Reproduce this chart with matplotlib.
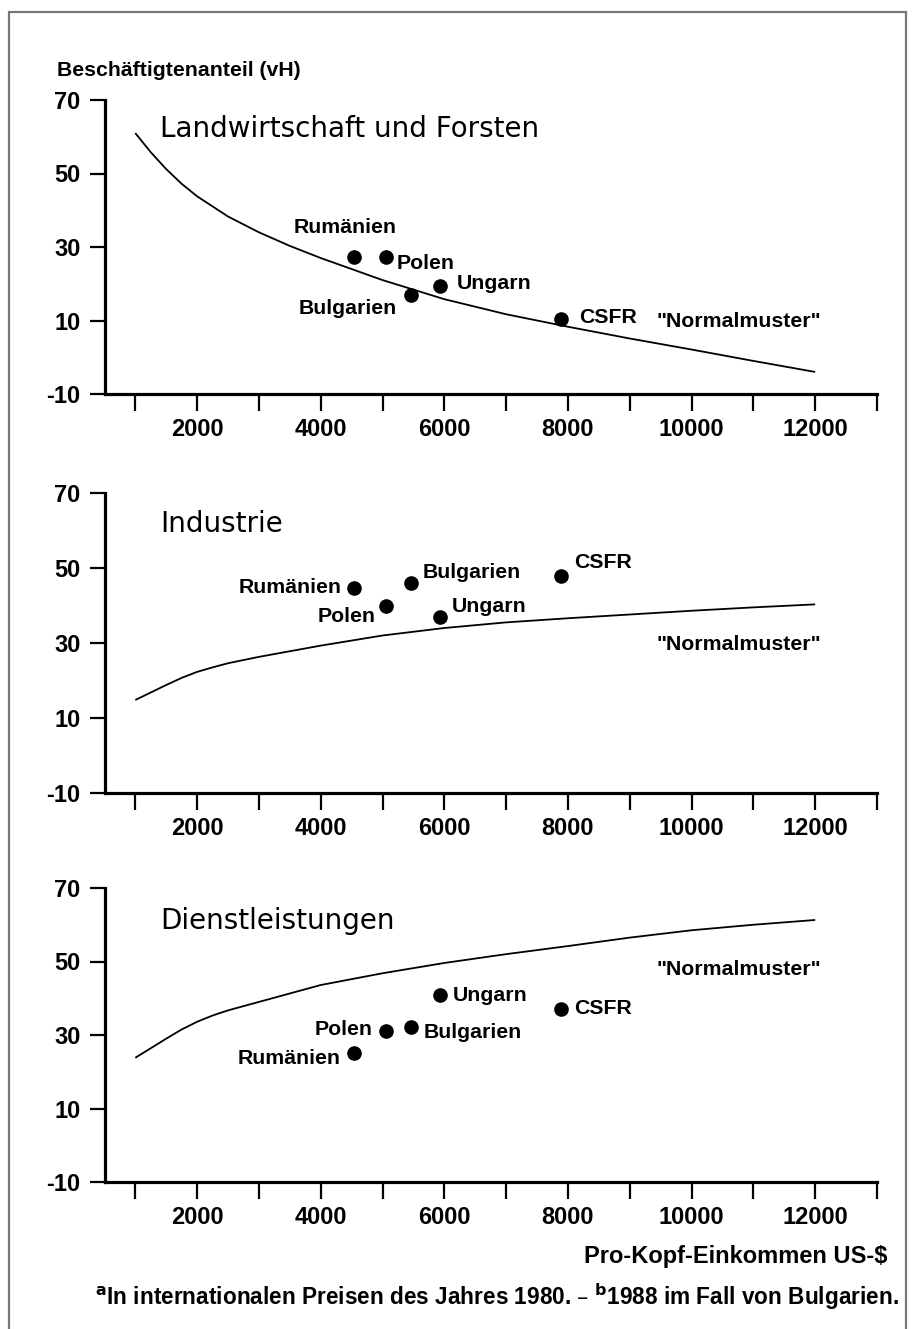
import matplotlib
matplotlib.use("Agg")
import matplotlib.pyplot as plt
from matplotlib.patches import Rectangle

# ---------------- data ----------------
countries = ["Rumänien", "Polen", "Bulgarien", "Ungarn", "CSFR"]
income = [4540, 5060, 5460, 5930, 7890]

agri_share = [27.2, 27.2, 16.9, 19.4, 10.4]
ind_share = [44.7, 39.9, 46.0, 37.0, 47.9]
serv_share = [25.2, 31.1, 32.2, 40.9, 37.1]

agri_x = [1000, 1250, 1500, 1750, 2000, 2500, 3000, 3500, 4000, 5000, 6000, 7000, 8000, 9000, 10000, 11000, 12000]
agri_curve = [61.0, 55.8, 51.2, 47.2, 43.8, 38.3, 34.0, 30.3, 27.0, 21.0, 15.8, 11.7, 8.3, 5.1, 2.1, -1.0, -4.0]
ind_x = [1000, 1500, 1750, 2000, 2250, 2500, 3000, 4000, 5000, 6000, 7000, 8000, 9000, 10000, 11000, 12000]
ind_curve = [14.8, 18.8, 20.7, 22.3, 23.5, 24.6, 26.3, 29.3, 32.0, 34.0, 35.5, 36.6, 37.6, 38.6, 39.5, 40.3]
serv_x = [1000, 1500, 1750, 2000, 2250, 2500, 3000, 4000, 5000, 6000, 7000, 8000, 9000, 10000, 11000, 12000]
serv_curve = [23.8, 29.0, 31.5, 33.6, 35.3, 36.7, 39.0, 43.6, 46.8, 49.6, 52.0, 54.2, 56.5, 58.5, 60.0, 61.3]

x_ticks = [1000, 2000, 3000, 4000, 5000, 6000, 7000, 8000, 9000, 10000, 11000, 12000, 13000]
x_ticklabels = ["", "2000", "", "4000", "", "6000", "", "8000", "", "10000", "", "12000", ""]
y_ticks = [-10, 10, 30, 50, 70]
y_ticklabels = ["-10", "10", "30", "50", "70"]

panel_titles = ["Landwirtschaft und Forsten", "Industrie", "Dienstleistungen"]
curve_label = '"Normalmuster"'
y_title = "Beschäftigtenanteil (vH)"
x_title = "Pro-Kopf-Einkommen US-$"
footnote = r"$^{\mathbf{a}}$In internationalen Preisen des Jahres 1980. – $^{\mathbf{b}}$1988 im Fall von Bulgarien."

# ---------------- layout / style ----------------
W, H = 915, 1329
fig = plt.figure(figsize=(W / 100, H / 100), dpi=100)
fig.patch.set_facecolor("white")

FAM = ["Liberation Sans", "DejaVu Sans"]
BOLD = dict(family=FAM, fontweight="bold", fontsize=15.3)
TICK = dict(family=FAM, fontweight="bold", fontsize=17)
TITLE = dict(family=["DejaVu Sans"], fontweight="normal", fontsize=20)

def px_rect(left, right, top, bottom):
    return [left / W, 1 - bottom / H, (right - left) / W, (bottom - top) / H]

axes_px = [
    (105, 877, 100, 394),
    (105, 877, 493, 793),
    (105, 877, 888, 1182),
]

# label offsets in pixels (dx, dy up positive), ha
offsets = [
    {"Rumänien": (-9, 30, "center"), "Polen": (10, -6, "left"), "Bulgarien": (-14, -13, "right"),
     "Ungarn": (17, 2, "left"), "CSFR": (18, 2, "left")},
    {"Rumänien": (-12, 0, "right"), "Polen": (-11, -11, "right"), "Bulgarien": (12, 10, "left"),
     "Ungarn": (12, 10, "left"), "CSFR": (13, 13, "left")},
    {"Rumänien": (-13, -6, "right"), "Polen": (-14, 1, "right"), "Bulgarien": (13, -6, "left"),
     "Ungarn": (13, -1, "left"), "CSFR": (13, 0, "left")},
]
title_y = [0.903, 0.895, 0.887]
normal_pos = [(9430, 9.7), (9430, 29.7), (9430, 47.7)]

xs = [agri_x, ind_x, serv_x]
shares = [agri_share, ind_share, serv_share]
curves = [agri_curve, ind_curve, serv_curve]

for i in range(3):
    ax = fig.add_axes(px_rect(*axes_px[i]))
    ax.set_xlim(510, 13000)
    ax.set_ylim(-10, 70)
    for s in ["top", "right"]:
        ax.spines[s].set_visible(False)
    for s in ["left", "bottom"]:
        ax.spines[s].set_linewidth(2.3)
    ax.plot(xs[i], curves[i], color="black", lw=1.3, solid_capstyle="butt")
    ax.plot(income, shares[i], "o", color="black", ms=9.5, zorder=3)
    ax.set_xticks(x_ticks)
    ax.set_xticklabels(x_ticklabels, **TICK)
    ax.set_yticks(y_ticks)
    ax.set_yticklabels(y_ticklabels, **TICK)
    ax.tick_params(axis="x", direction="out", length=12, width=1.6, pad=5)
    ax.tick_params(axis="y", direction="out", length=10.5, width=1.6, pad=7)
    ax.text(0.0712, title_y[i], panel_titles[i], transform=ax.transAxes,
            ha="left", va="center", **TITLE)
    ax.text(normal_pos[i][0], normal_pos[i][1], curve_label, ha="left", va="center", **BOLD)
    for c, xv, yv in zip(countries, income, shares[i]):
        dx, dy, ha = offsets[i][c]
        ax.annotate(c, (xv, yv), xytext=(dx, dy), textcoords="offset pixels",
                    ha=ha, va="center", **BOLD)

fig.text(57 / W, 1 - 71 / H, y_title, ha="left", va="center", **BOLD)
fig.text(888 / W, 1 - 1257 / H, x_title, ha="right", va="center",
         family=FAM, fontweight="bold", fontsize=17)
fig.text(95 / W, 1 - 1297 / H, footnote, ha="left", va="center",
         family=FAM, fontweight="bold", fontsize=16.3)

fig.patches.append(Rectangle((9 / W, -0.01), (906 - 9) / W, 1 - 12 / H + 0.01,
                             transform=fig.transFigure, fill=False,
                             edgecolor="#777777", lw=1.6))

fig.savefig("out.png", dpi=100, facecolor="white")
